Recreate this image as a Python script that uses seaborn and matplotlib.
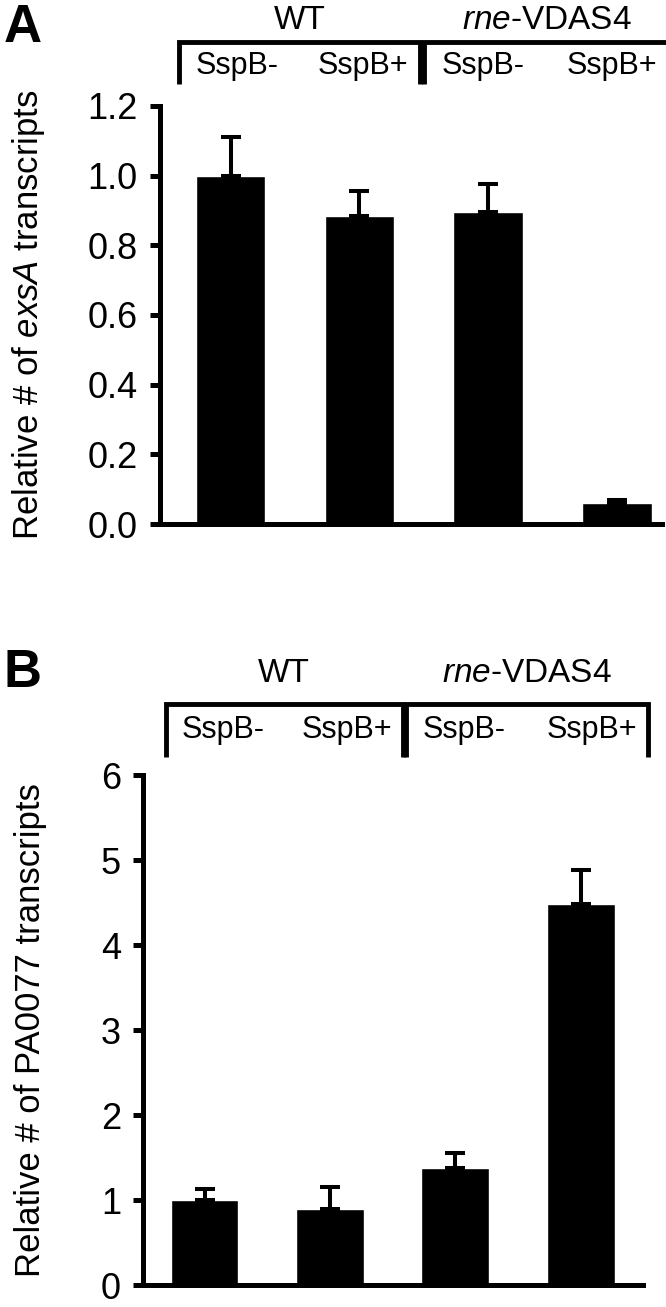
import numpy as np
import pandas as pd
import matplotlib
matplotlib.use("Agg")
import matplotlib.pyplot as plt
import seaborn as sns

# Werte
conditions = ["WT SspB-", "WT SspB+", "rne-VDAS4 SspB-", "rne-VDAS4 SspB+"]
strains = ["WT", r"$\mathit{rne}$-VDAS4"]
sspb_labels = ["SspB-", "SspB+", "SspB-", "SspB+"]

exsA_mean = [1.00, 0.885, 0.895, 0.06]
exsA_err = [0.11, 0.07, 0.08, 0.008]

pa0077_mean = [1.00, 0.90, 1.38, 4.48]
pa0077_err = [0.13, 0.25, 0.17, 0.41]

exsA_ticks = [0.0, 0.2, 0.4, 0.6, 0.8, 1.0, 1.2]
pa0077_ticks = [0, 1, 2, 3, 4, 5, 6]

sns.set_style("ticks")
plt.rcParams['font.family'] = ['Liberation Sans', 'DejaVu Sans']
plt.rcParams['mathtext.fontset'] = 'custom'
plt.rcParams['mathtext.rm'] = 'Liberation Sans'
plt.rcParams['mathtext.it'] = 'Liberation Sans:italic'
for k in ['text.color', 'axes.labelcolor', 'xtick.color', 'ytick.color', 'axes.edgecolor']:
    plt.rcParams[k] = 'black'

fig = plt.figure(figsize=(6.66, 13.07), dpi=100)
axA = fig.add_axes([0.240, 0.599, 0.754, 0.320])
axB = fig.add_axes([0.215, 0.0168, 0.751, 0.390])


def draw_panel(ax, means, errs, ticks, fmt, ylabel, xlim, bracket_x,
               br_top, br_bot, strain_y, sspb_y, label_x):
    df = pd.DataFrame({'condition': conditions, 'value': means})
    sns.barplot(data=df, x='condition', y='value', color='black',
                saturation=1, width=0.54, ax=ax)
    centers = [p.get_x() + p.get_width() / 2 for p in ax.patches]
    ax.errorbar(centers, means, yerr=[np.zeros(len(errs)), errs], fmt='none',
                ecolor='black', elinewidth=2.9, capsize=7.2, capthick=2.9)

    ax.set_xlim(*xlim)
    ax.set_ylim(ticks[0], ticks[-1])
    ax.set_yticks(ticks)
    ax.set_yticklabels([fmt.format(t) for t in ticks])
    ax.set_xticks([])
    ax.set_xlabel('')
    ax.set_ylabel(ylabel, fontsize=25)
    ax.yaxis.set_label_coords(label_x, 0.5)
    ax.tick_params(axis='y', direction='out', length=7, width=3.6,
                   labelsize=26, pad=9)
    sns.despine(ax=ax)
    for s in ['left', 'bottom']:
        ax.spines[s].set_linewidth(3.6)

    # Klammern mit Stammnamen, SspB-Beschriftung innerhalb jeder Klammer
    trans = ax.get_xaxis_transform()
    for i, name in enumerate(strains):
        x0, x1 = bracket_x[i]
        ax.plot([x0, x0, x1, x1], [br_bot, br_top, br_top, br_bot],
                color='black', lw=3.5, transform=trans, clip_on=False,
                solid_joinstyle='miter', solid_capstyle='butt')
        ax.text((x0 + x1) / 2, strain_y, name, transform=trans,
                ha='center', va='center', fontsize=24)
        for frac, lab in zip([0.24, 0.765], sspb_labels[2 * i:2 * i + 2]):
            ax.text(x0 + frac * (x1 - x0), sspb_y, lab, transform=trans,
                    ha='center', va='center', fontsize=22)


draw_panel(axA, exsA_mean, exsA_err, exsA_ticks, "{:.1f}",
           r"Relative # of $\mathit{exsA}$ transcripts",
           (-0.55, 3.35), [(-0.40, 1.47), (1.50, 3.41)],
           1.153, 1.052, 1.205, 1.096, -0.225)

draw_panel(axB, pa0077_mean, pa0077_err, pa0077_ticks, "{:d}",
           "Relative # of PA0077 transcripts",
           (-0.49, 3.50), [(-0.31, 1.58), (1.61, 3.54)],
           1.140, 1.035, 1.200, 1.088, -0.192)

fig.text(0.005, 0.998, "A", fontsize=38, fontweight='bold', va='top')
fig.text(0.005, 1 - 648 / 1307, "B", fontsize=38, fontweight='bold', va='top')

plt.savefig("out.png", dpi=100)
